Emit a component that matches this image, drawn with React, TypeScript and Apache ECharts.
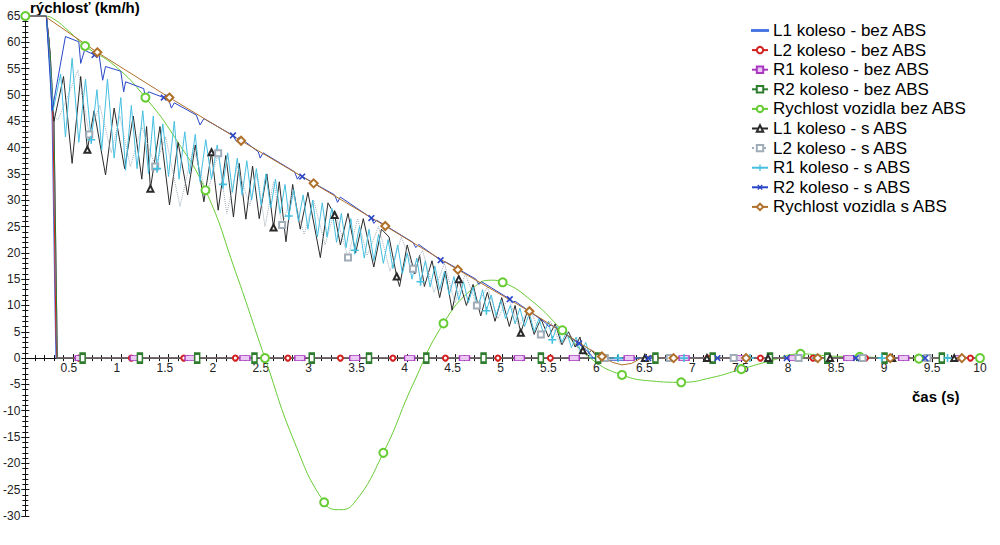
import React, { useEffect, useRef } from 'react';
import * as echarts from 'echarts';

type Pt = [number, number];

// ---- axes ----
const xMin = 0;
const xMax = 10;
const xStep = 0.5;
const yMin = -30;
const yMax = 65;
const yStep = 5;

// ---- series names ----
const seriesNames = [
  'L1 koleso - bez ABS',
  'L2 koleso - bez ABS',
  'R1 koleso - bez ABS',
  'R2 koleso - bez ABS',
  'Rychlost vozidla bez ABS',
  'L1 koleso - s ABS',
  'L2 koleso - s ABS',
  'R1 koleso - s ABS',
  'R2 koleso - s ABS',
  'Rychlost vozidla s ABS',
];

// ---- data: without ABS ----
const l1BezAbs: Pt[] = [[0, 65], [0.22, 65], [0.25, 60], [0.28, 46], [0.31, 10], [0.32, 0], [10, 0]];
const l1BezAbsMarks: number[] = [];

const l2BezAbs: Pt[] = [
  [0, 65], [0.22, 65], [0.25, 60], [0.29, 45], [0.32, 5], [0.33, 0],
  [0.56, 0], [1.11, 0], [1.66, 0], [2.2, 0], [2.75, 0], [3.3, 0], [3.85, 0], [4.4, 0], [4.95, 0],
  [5.5, 0], [6.05, 0], [6.6, 0], [7.15, 0], [7.7, 0], [8.25, 0], [8.8, 0], [9.35, 0], [9.9, 0], [10, 0],
];
const l2BezAbsMarks = [0.56, 1.11, 1.66, 2.2, 2.75, 3.3, 3.85, 4.4, 4.95, 5.5, 6.05, 6.6, 7.15, 7.7, 8.25, 8.8, 9.35, 9.9];

const r1BezAbs: Pt[] = [
  [0, 65], [0.22, 65], [0.26, 58], [0.3, 45], [0.335, 0],
  [0.575, 0], [1.15, 0], [1.725, 0], [2.3, 0], [2.875, 0], [3.45, 0], [4.025, 0], [4.6, 0], [5.175, 0],
  [5.75, 0], [6.325, 0], [6.9, 0], [7.475, 0], [8.05, 0], [8.625, 0], [9.2, 0], [9.775, 0], [10, 0],
];
const r1BezAbsMarks = [0.575, 1.15, 1.725, 2.3, 2.875, 3.45, 4.025, 4.6, 5.175, 5.75, 6.325, 6.9, 7.475, 8.05, 8.625, 9.2, 9.775];

const r2BezAbs: Pt[] = [
  [0, 65], [0.22, 65], [0.26, 58], [0.3, 45], [0.335, 0],
  [0.6, 0], [1.2, 0], [1.8, 0], [2.4, 0], [3.0, 0], [3.6, 0], [4.2, 0], [4.8, 0], [5.4, 0],
  [6.0, 0], [6.6, 0], [7.2, 0], [7.8, 0], [8.4, 0], [9.0, 0], [9.6, 0], [10, 0],
];
const r2BezAbsMarks = [0.6, 1.2, 1.8, 2.4, 3.0, 3.6, 4.2, 4.8, 5.4, 6.0, 6.6, 7.2, 7.8, 8.4, 9.0, 9.6];

const vozidloBezAbs: Pt[] = [
  [0, 65], [0.2, 65], [0.3, 64.4], [0.45, 62.2], [0.626, 59.3], [0.94, 55.5], [1.258, 49.5], [1.57, 41.8],
  [1.887, 31.9], [2.2, 16.5], [2.51, 0], [2.82, -16], [3.13, -27.4], [3.28, -28.8], [3.44, -27.6],
  [3.75, -18], [4.06, -5], [4.38, 6.6], [4.69, 13.3], [4.88, 14.8], [5.0, 14.4], [5.31, 10.8],
  [5.625, 5.3], [5.94, -0.3], [6.25, -3.2], [6.56, -4.35], [6.87, -4.6], [7.19, -3.7], [7.5, -2.1],
  [7.81, -0.5], [8.12, 0.8], [8.43, 0.4], [8.74, 0.25], [9.05, 0.05], [9.36, -0.1], [9.68, 0], [10, 0],
];
const vozidloBezAbsMarks = [0, 0.626, 1.258, 1.887, 2.51, 3.13, 3.75, 4.38, 5.0, 5.625, 6.25, 6.87, 7.5, 8.12, 8.74, 9.36, 10];

// ---- data: with ABS ----
const l1SAbs: Pt[] = [
  [0, 65], [0.22, 65], [0.3, 45], [0.4, 53.5], [0.49, 37], [0.58, 53.5], [0.65, 39.6], [0.72, 47],
  [0.84, 34.8], [0.93, 47.5], [1.04, 36], [1.13, 46], [1.22, 34], [1.27, 44], [1.31, 32.2], [1.41, 44],
  [1.51, 29.1], [1.6, 41], [1.7, 31], [1.78, 40.5], [1.87, 29.7], [1.95, 39.1], [2.02, 28.1], [2.1, 38.5],
  [2.18, 26.8], [2.24, 37], [2.31, 26.4], [2.38, 36.5], [2.45, 26.5], [2.53, 35], [2.6, 24.8], [2.66, 33.5],
  [2.73, 22.1], [2.8, 33], [2.88, 24.5], [2.96, 31.5], [3.09, 19.1], [3.17, 29.5], [3.24, 27.2], [3.3, 21.5],
  [3.38, 27.5], [3.46, 20], [3.54, 26.5], [3.65, 17.3], [3.73, 24.5], [3.81, 23], [3.89, 15.5], [3.92, 13.6],
  [4.0, 21.5], [4.08, 16], [4.13, 19.5], [4.18, 13.6], [4.26, 18.5], [4.34, 11.5], [4.4, 16.5], [4.47, 9.1],
  [4.54, 15], [4.62, 10], [4.69, 14], [4.77, 8], [4.84, 12.5], [4.92, 7], [4.99, 11.5], [5.07, 6],
  [5.13, 10], [5.19, 4.8], [5.26, 9], [5.33, 4.5], [5.4, 7.5], [5.48, 4.0], [5.55, 6.5], [5.62, 2.5],
  [5.69, 5], [5.76, 2.1], [5.81, 4], [5.84, 1.5], [5.88, 0.6], [5.93, 1.5], [6.0, 0], [6.49, 0],
  [6.55, 0.4], [6.62, 0], [7.14, 0], [7.78, 0], [8.43, 0], [9.08, 0], [9.73, 0], [10, 0],
];
const l1SAbsMarks = [0.65, 1.31, 1.95, 2.6, 3.24, 3.89, 4.54, 5.19, 5.84, 6.49, 7.14, 7.78, 8.43, 9.08, 9.73];

const l2SAbs: Pt[] = [
  [0, 65], [0.22, 65], [0.3, 46], [0.34, 45.2], [0.45, 50], [0.55, 54.7], [0.67, 42.5], [0.78, 48],
  [0.9, 39], [0.99, 46], [1.1, 36.4], [1.22, 44], [1.36, 36.4], [1.47, 42], [1.62, 28.8], [1.76, 40],
  [1.9, 31], [2.02, 38.9], [2.11, 27.5], [2.22, 36.5], [2.35, 29], [2.43, 35], [2.51, 25], [2.6, 33.5],
  [2.69, 25.3], [2.8, 31.5], [2.92, 23.5], [3.02, 30], [3.14, 21.5], [3.24, 28], [3.38, 19.1], [3.48, 26.5],
  [3.58, 19.5], [3.7, 25], [3.82, 16.5], [3.94, 23], [4.06, 17.0], [4.16, 20.5], [4.28, 12.5], [4.39, 18],
  [4.5, 10.5], [4.61, 16], [4.73, 10], [4.84, 13.5], [4.95, 7.5], [5.06, 11.5], [5.17, 6], [5.28, 9.5],
  [5.4, 4.5], [5.5, 7], [5.61, 2.5], [5.71, 4.5], [5.8, 1.5], [5.88, 2], [5.95, 0], [6.07, 0],
  [6.75, 0], [7.42, 0], [8.1, 0], [8.77, 0], [9.45, 0], [10, 0],
];
const l2SAbsMarks = [0.67, 1.36, 2.02, 2.69, 3.38, 4.06, 4.73, 5.4, 6.07, 6.75, 7.42, 8.1, 8.77, 9.45];

const r1SAbs: Pt[] = [
  [0, 65], [0.22, 65], [0.29, 47], [0.37, 54], [0.42, 42], [0.49, 57], [0.56, 41], [0.63, 53],
  [0.69, 41.5], [0.75, 51], [0.8, 39.5], [0.86, 53], [0.93, 38], [1.0, 49.5], [1.05, 35.7], [1.11, 48],
  [1.17, 36], [1.23, 47], [1.29, 35], [1.34, 46], [1.38, 36], [1.44, 44.5], [1.5, 34.5], [1.56, 45],
  [1.61, 34], [1.67, 43], [1.72, 35], [1.78, 42.5], [1.83, 33.5], [1.89, 41.5], [1.95, 34], [2.01, 40.5],
  [2.07, 33], [2.12, 39], [2.17, 31.5], [2.22, 38], [2.27, 31], [2.32, 37.5], [2.37, 30], [2.42, 36],
  [2.47, 29], [2.52, 35], [2.57, 28.5], [2.62, 34], [2.67, 27.5], [2.72, 33], [2.76, 27], [2.81, 32],
  [2.86, 26], [2.91, 31], [2.96, 24.5], [3.01, 30], [3.06, 23], [3.11, 29.5], [3.16, 23], [3.21, 28.5],
  [3.26, 22], [3.31, 27.5], [3.36, 21], [3.41, 26.5], [3.45, 20.5], [3.5, 25], [3.55, 19], [3.6, 24.5],
  [3.65, 18.5], [3.7, 23.5], [3.75, 18], [3.8, 22.5], [3.85, 17], [3.9, 21.5], [3.95, 16], [4.0, 20],
  [4.05, 15], [4.1, 19], [4.14, 14.5], [4.19, 18.5], [4.24, 13.5], [4.29, 17.5], [4.34, 13], [4.39, 16.5],
  [4.44, 12], [4.49, 15.5], [4.54, 11], [4.59, 14.5], [4.64, 10.5], [4.69, 13.5], [4.74, 9.5], [4.79, 13],
  [4.83, 9], [4.88, 12], [4.93, 8], [4.98, 11], [5.03, 7.5], [5.08, 10], [5.13, 6.5], [5.18, 9.5],
  [5.23, 6], [5.28, 8.5], [5.33, 5], [5.38, 7.5], [5.43, 4.5], [5.48, 7], [5.52, 3.5], [5.57, 6],
  [5.62, 3], [5.67, 5], [5.72, 2], [5.77, 4], [5.82, 1], [5.87, 3], [5.92, 0], [6.21, 0],
  [6.9, 0], [7.59, 0], [8.28, 0], [8.97, 0], [9.66, 0], [10, 0],
];
const r1SAbsMarks = [0.69, 1.38, 2.07, 2.76, 3.45, 4.14, 4.83, 5.52, 6.21, 6.9, 7.59, 8.28, 8.97, 9.66];

const r2SAbs: Pt[] = [
  [0, 65], [0.22, 65], [0.28, 47], [0.42, 61.1], [0.56, 60.1], [0.58, 56], [0.62, 58.5], [0.725, 57.6],
  [0.77, 57.9], [0.81, 52.8], [0.84, 55.4], [1.0, 54.5], [1.03, 50.6], [1.05, 52.5], [1.24, 51.2], [1.26, 49.3],
  [1.29, 50.6], [1.45, 49.5], [1.5, 49.2], [1.53, 47.5], [1.56, 48.5], [1.79, 46.2], [1.83, 44.3], [1.87, 45.5],
  [2.175, 42.3], [2.21, 41.2], [2.24, 42], [2.44, 39.2], [2.46, 38.0], [2.49, 39], [2.82, 35.4], [2.85, 34.0],
  [2.88, 34.8], [2.9, 34.5], [3.24, 31.0], [3.27, 29.6], [3.3, 30.6], [3.625, 26.6], [3.65, 25.6], [3.68, 26.2],
  [4.06, 22], [4.09, 21], [4.12, 21.6], [4.35, 18.6], [4.37, 18.0], [4.4, 18.3], [4.72, 15], [4.75, 14],
  [4.78, 14.5], [5.075, 11.2], [5.1, 10.5], [5.13, 10.8], [5.45, 6.7], [5.48, 6.0], [5.51, 6.3], [5.76, 3.3],
  [5.79, 2.6], [5.8, 2.8], [5.88, 1.5], [5.95, 0], [6.0, -0.4], [6.35, -0.4], [6.42, 0], [6.525, 0],
  [7.25, 0], [7.975, 0], [8.7, 0], [9.425, 0], [10, 0],
];
const r2SAbsMarks = [0.725, 1.45, 2.175, 2.9, 3.625, 4.35, 5.075, 5.8, 6.525, 7.25, 7.975, 8.7, 9.425];

const vozidloSAbs: Pt[] = [
  [0, 65], [0.2, 65], [0.754, 58.1], [1.509, 49.5], [2.26, 41.3], [3.02, 33.2], [3.77, 25.1], [4.53, 16.8],
  [5.28, 8.9], [5.9, 1.8], [6.04, 0.3], [6.15, -0.8], [6.25, -1.3], [6.35, -1.0], [6.45, 0], [6.56, 0.5],
  [6.66, 0], [6.79, 0], [7.55, 0], [8.3, 0], [9.06, 0], [9.81, 0], [10, 0],
];
const vozidloSAbsMarks = [0.754, 1.509, 2.26, 3.02, 3.77, 4.53, 5.28, 6.04, 6.79, 7.55, 8.3, 9.06, 9.81];

// ---- helpers ----
const FONT = '"Liberation Sans", Arial, sans-serif';
const PLUS = 'path://M4,0H6V10H4Z M0,4H10V6H0Z';
const LINE_ICON = 'path://M0,0H40V2H0Z';

function items(points: Pt[], marks: number[]) {
  return points.map(([x, y]) =>
    marks.some((m) => Math.abs(m - x) < 1e-6) ? { value: [x, y] } : { value: [x, y], symbol: 'none' }
  );
}

function lineSeries(
  name: string,
  points: Pt[],
  marks: number[],
  color: string,
  symbol: string,
  symbolSize: number | number[],
  extra: any = {}
) {
  const { lineStyle, itemStyle, ...rest } = extra;
  return {
    name,
    type: 'line',
    xAxisIndex: 0,
    yAxisIndex: 0,
    data: items(points, marks),
    symbol,
    symbolSize,
    showSymbol: true,
    color,
    lineStyle: { color, width: 1, ...(lineStyle || {}) },
    itemStyle: { color, borderColor: color, borderWidth: 1, ...(itemStyle || {}) },
    emphasis: { disabled: true },
    ...rest,
  };
}

function buildOption() {
  const tickCommon = {
    axisTick: { show: true, length: 4, lineStyle: { color: '#111' } },
    minorTick: { show: true, splitNumber: 5, length: 3, lineStyle: { color: '#111' } },
    splitLine: { show: false },
    minorSplitLine: { show: false },
  };
  const xBase = {
    type: 'value',
    gridIndex: 0,
    min: xMin,
    max: xMax,
    interval: xStep,
    axisLine: { show: true, onZero: true, onZeroAxisIndex: 0, lineStyle: { color: '#111', width: 1 } },
    axisLabel: { show: false },
    ...tickCommon,
  };
  const yBase = {
    type: 'value',
    gridIndex: 0,
    min: yMin,
    max: yMax,
    interval: yStep,
    axisLine: { show: true, onZero: true, onZeroAxisIndex: 0, lineStyle: { color: '#111', width: 1 } },
    ...tickCommon,
  };
  const labelStyle = { fontSize: 12, color: '#222', fontFamily: FONT };
  // pixel of y = 0 inside the main grid (top 16, bottom edge at 516)
  const zeroFromBottom = 545 - (16 + (500 * yMax) / (yMax - yMin));

  return {
    animation: false,
    backgroundColor: '#fff',
    grid: [
      { left: 21, right: 20, top: 16, bottom: 29, containLabel: false },
      { left: 21, right: 20, top: 16, bottom: zeroFromBottom, containLabel: false },
    ],
    xAxis: [
      { ...xBase, position: 'bottom' },
      { ...xBase, position: 'top' },
      {
        type: 'value',
        gridIndex: 1,
        min: xMin,
        max: xMax,
        interval: xStep,
        position: 'bottom',
        axisLine: { show: false, onZero: false },
        axisTick: { show: false },
        minorTick: { show: false },
        splitLine: { show: false },
        axisLabel: { ...labelStyle, margin: 4, formatter: (v: number) => (v === 0 ? '' : String(v)) },
      },
    ],
    yAxis: [
      { ...yBase, position: 'left', axisLabel: { ...labelStyle, margin: 5 } },
      { ...yBase, position: 'right', axisLabel: { show: false } },
      {
        type: 'value',
        gridIndex: 1,
        min: 0,
        max: yMax,
        show: false,
      },
    ],
    legend: {
      orient: 'vertical',
      left: 751,
      top: 22,
      padding: 0,
      itemWidth: 16,
      itemHeight: 8,
      itemGap: 2.6,
      textStyle: { fontSize: 17, lineHeight: 17, color: '#000', fontFamily: FONT },
      data: seriesNames.map((n, i) => (i === 0 ? { name: n, icon: LINE_ICON } : { name: n })),
      selectedMode: false,
    },
    graphic: [
      {
        type: 'text',
        x: 30,
        y: 7,
        style: {
          text: 'rýchlosť (km/h)',
          fontSize: 15,
          fontWeight: 'bold',
          fontFamily: FONT,
          fill: '#000',
          verticalAlign: 'middle',
        },
      },
      {
        type: 'text',
        x: 912,
        y: 396,
        style: {
          text: 'čas (s)',
          fontSize: 15,
          fontWeight: 'bold',
          fontFamily: FONT,
          fill: '#000',
          verticalAlign: 'middle',
        },
      },
    ],
    series: [
      lineSeries(seriesNames[0], l1BezAbs, l1BezAbsMarks, '#3f6fe0', 'none', 6),
      lineSeries(seriesNames[1], l2BezAbs, l2BezAbsMarks, '#d42020', 'emptyCircle', 5),
      lineSeries(seriesNames[2], r1BezAbs, r1BezAbsMarks, '#a838c0', 'rect', [10, 5], {
        itemStyle: { color: '#ecc8f4', borderColor: '#a838c0', borderWidth: 1 },
      }),
      lineSeries(seriesNames[3], r2BezAbs, r2BezAbsMarks, '#2e7d2e', 'emptyRect', [5, 9]),
      lineSeries(seriesNames[4], vozidloBezAbs, vozidloBezAbsMarks, '#66cc33', 'emptyCircle', 8, {
        smooth: 0.5,
      }),
      lineSeries(seriesNames[5], l1SAbs, l1SAbsMarks, '#2a2a2a', 'emptyTriangle', 6),
      lineSeries(seriesNames[6], l2SAbs, l2SAbsMarks, '#a0adb8', 'emptyRect', 6, {
        lineStyle: { type: 'dotted' },
      }),
      lineSeries(seriesNames[7], r1SAbs, r1SAbsMarks, '#45bfe0', PLUS, 8, {
        itemStyle: { borderWidth: 0 },
      }),
      lineSeries(seriesNames[8], r2SAbs, r2SAbsMarks, '#2a46c8', PLUS, 8, {
        symbolRotate: 45,
        itemStyle: { borderWidth: 0 },
      }),
      lineSeries(seriesNames[9], vozidloSAbs, vozidloSAbsMarks, '#b0702a', 'emptyDiamond', 8),
    ],
  };
}

export default function App() {
  const ref = useRef<HTMLDivElement>(null);
  useEffect(() => {
    if (!ref.current) return;
    const chart = echarts.init(ref.current, null, { renderer: 'svg' });
    chart.setOption(buildOption() as any);
    return () => chart.dispose();
  }, []);
  return (
    <div
      ref={ref}
      style={{ position: 'absolute', left: 0, top: 0, width: 1000, height: 545, background: '#fff' }}
    />
  );
}
